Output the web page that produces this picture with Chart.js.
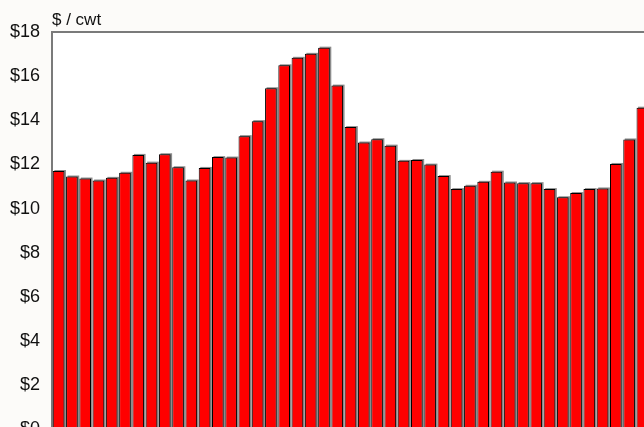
<!DOCTYPE html>
<html>
<head>
<meta charset="utf-8">
<script src="https://cdn.jsdelivr.net/npm/chart.js@4"></script>
<style>
  html, body { margin: 0; padding: 0; background: #fcfbf9; overflow: hidden; }
  #wrap { position: absolute; left: 0; top: 0; width: 660px; height: 452px; }
</style>
</head>
<body>
<div id="wrap"><canvas id="myChart"></canvas></div>
<script>
// price per hundredweight, one bar per period
const periods = Array.from({ length: 45 }, (_, i) => 'P' + (i + 1));
const prices = [
  11.70, 11.45, 11.36, 11.27, 11.39, 11.62, 12.43, 12.08, 12.46, 11.87,
  11.27, 11.84, 12.33, 12.31, 13.28, 13.96, 15.45, 16.49, 16.83, 17.01,
  17.29, 15.57, 13.69, 12.99, 13.14, 12.85, 12.16, 12.20, 11.99, 11.47,
  10.88, 11.03, 11.21, 11.67, 11.18, 11.15, 11.15, 10.88, 10.51, 10.70,
  10.88, 10.91, 12.02, 13.13, 14.57
];
const yTicks = [0, 2, 4, 6, 8, 10, 12, 14, 16, 18];
const unitLabel = '$ / cwt';

const FONT = '"Liberation Sans", Arial, sans-serif';

// white plot area + gray drop shadow behind each bar + top frame + unit label
const plotDeco = {
  id: 'plotDeco',
  beforeDraw(chart) {
    const { ctx, chartArea: a } = chart;
    ctx.save();
    ctx.fillStyle = '#ffffff';
    ctx.fillRect(a.left, a.top, a.right - a.left, a.bottom - a.top);
    ctx.restore();
  },
  beforeDatasetsDraw(chart) {
    const ctx = chart.ctx;
    const meta = chart.getDatasetMeta(0);
    ctx.save();
    ctx.fillStyle = '#8c8c8c';
    meta.data.forEach(bar => {
      const p = bar.getProps(['x', 'y', 'width', 'base'], true);
      ctx.fillRect(p.x - p.width / 2 + 1.5, p.y - 1, p.width, p.base - p.y + 1);
    });
    ctx.restore();
  },
  afterDraw(chart) {
    const { ctx, chartArea: a } = chart;
    ctx.save();
    ctx.strokeStyle = '#7a7a7a';
    ctx.lineWidth = 2;
    ctx.beginPath();
    ctx.moveTo(a.left - 1, a.top);
    ctx.lineTo(chart.width, a.top);
    ctx.stroke();
    ctx.fillStyle = '#111';
    ctx.font = '17px ' + FONT;
    ctx.textAlign = 'left';
    ctx.textBaseline = 'alphabetic';
    ctx.fillText(unitLabel, a.left, a.top - 7);
    ctx.restore();
  }
};

new Chart(document.getElementById('myChart'), {
  type: 'bar',
  data: {
    labels: periods,
    datasets: [{
      data: prices,
      backgroundColor: '#ff0000',
      borderColor: '#000000',
      borderWidth: 1,
      borderSkipped: false,
      barPercentage: 0.88,
      categoryPercentage: 1.0
    }]
  },
  options: {
    responsive: true,
    maintainAspectRatio: false,
    animation: false,
    layout: { padding: { top: 32, right: 11, bottom: 12, left: 0 } },
    plugins: { legend: { display: false }, tooltip: { enabled: false } },
    scales: {
      x: { display: false, offset: true },
      y: {
        min: 0,
        max: 18,
        afterBuildTicks(scale) { scale.ticks = yTicks.map(v => ({ value: v })); },
        afterFit(scale) { scale.width = 52; },
        grid: { display: false, drawTicks: false },
        border: { display: true, color: '#7a7a7a', width: 2 },
        ticks: {
          padding: 12,
          color: '#111',
          font: { family: FONT, size: 18 },
          callback: v => '$' + v
        }
      }
    }
  },
  plugins: [plotDeco]
});
</script>
</body>
</html>
